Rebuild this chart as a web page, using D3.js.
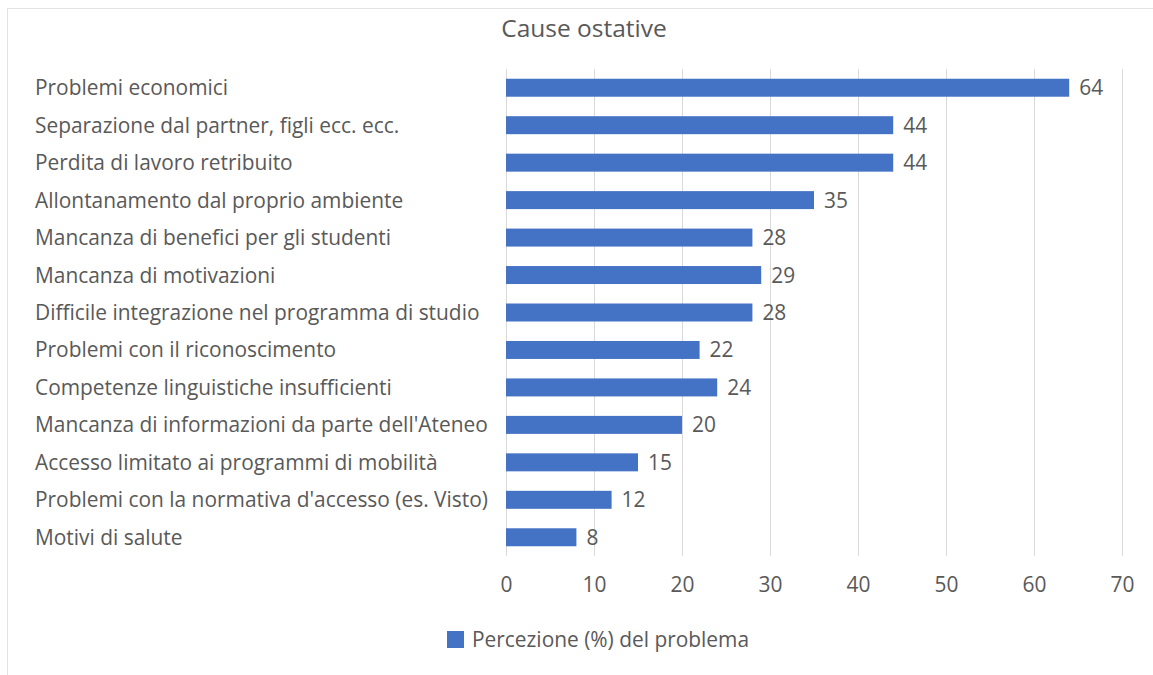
<!DOCTYPE html>
<html>
<head>
<meta charset="utf-8">
<script src="https://cdn.jsdelivr.net/npm/d3@7"></script>
<style>
  html, body { margin: 0; padding: 0; background: #ffffff; }
  svg { display: block; }
  text { font-family: "Open Sans", "Noto Sans", sans-serif; fill: #595959; }
</style>
</head>
<body>
<svg id="chart" width="1153" height="675"></svg>
<script>
// Obstacle causes and perceived share (%) of respondents
const categories = [
  "Problemi economici",
  "Separazione dal partner, figli ecc. ecc.",
  "Perdita di lavoro retribuito",
  "Allontanamento dal proprio ambiente",
  "Mancanza di benefici per gli studenti",
  "Mancanza di motivazioni",
  "Difficile integrazione nel programma di studio",
  "Problemi con il riconoscimento",
  "Competenze linguistiche insufficienti",
  "Mancanza di informazioni da parte dell'Ateneo",
  "Accesso limitato ai programmi di mobilità",
  "Problemi con la normativa d'accesso (es. Visto)",
  "Motivi di salute"
];
const values = [64, 44, 44, 35, 28, 29, 28, 22, 24, 20, 15, 12, 8];
const ticks = [0, 10, 20, 30, 40, 50, 60, 70];
const title = "Cause ostative";
const seriesName = "Percezione (%) del problema";

const W = 1153, H = 675;
const plot = { left: 506, right: 1122, top: 69, bottom: 556 };
const barColor = "#4472C4";
const gridColor = "#d9d9d9";
const fontSize = 20.9;

const svg = d3.select("#chart");

// chart frame (top and left edges visible)
svg.append("rect")
  .attr("x", 7.5).attr("y", 8.5)
  .attr("width", W + 10).attr("height", H + 10)
  .attr("fill", "none")
  .attr("stroke", "#e3e3e3")
  .attr("stroke-width", 1);

const x = d3.scaleLinear().domain([0, 70]).range([plot.left, plot.right]);
const y = d3.scaleBand().domain(categories).range([plot.top, plot.bottom]).paddingInner(0.52).paddingOuter(0.26);

// title
svg.append("text")
  .attr("x", 584).attr("y", 37)
  .attr("text-anchor", "middle")
  .style("font-size", "24.5px")
  .text(title);

// vertical gridlines
svg.append("g")
  .selectAll("line")
  .data(ticks)
  .join("line")
  .attr("x1", d => Math.round(x(d)) + 0.5)
  .attr("x2", d => Math.round(x(d)) + 0.5)
  .attr("y1", plot.top)
  .attr("y2", plot.bottom)
  .attr("stroke", gridColor)
  .attr("stroke-width", 1);

// x axis labels
const xAxis = d3.axisBottom(x).tickValues(ticks).tickSize(0).tickPadding(0);
const gx = svg.append("g")
  .attr("transform", `translate(0, 577)`)
  .call(xAxis);
gx.select(".domain").remove();
gx.selectAll("text")
  .attr("dy", "0.72em")
  .attr("fill", "#595959")
  .style("font-size", fontSize + "px")
  .style("font-family", "\"Open Sans\", sans-serif");

// category labels
svg.append("g")
  .selectAll("text")
  .data(categories)
  .join("text")
  .attr("x", 35)
  .attr("y", d => y(d) + y.bandwidth() / 2)
  .attr("dy", "0.36em")
  .style("font-size", fontSize + "px")
  .text(d => d);

// bars
const rows = categories.map((c, i) => ({ c, v: values[i] }));
svg.append("g")
  .selectAll("rect")
  .data(rows)
  .join("rect")
  .attr("x", x(0))
  .attr("y", d => y(d.c))
  .attr("width", d => x(d.v) - x(0))
  .attr("height", y.bandwidth())
  .attr("fill", barColor);

// value labels
svg.append("g")
  .selectAll("text")
  .data(rows)
  .join("text")
  .attr("x", d => x(d.v) + 10)
  .attr("y", d => y(d.c) + y.bandwidth() / 2)
  .attr("dy", "0.36em")
  .style("font-size", fontSize + "px")
  .text(d => d.v);

// legend
const lg = svg.append("g").attr("transform", "translate(447, 631)");
lg.append("rect")
  .attr("x", 0).attr("y", 0)
  .attr("width", 17).attr("height", 17)
  .attr("fill", barColor);
lg.append("text")
  .attr("x", 25).attr("y", 8.5)
  .attr("dy", "0.36em")
  .style("font-size", fontSize + "px")
  .text(seriesName);
</script>
</body>
</html>
